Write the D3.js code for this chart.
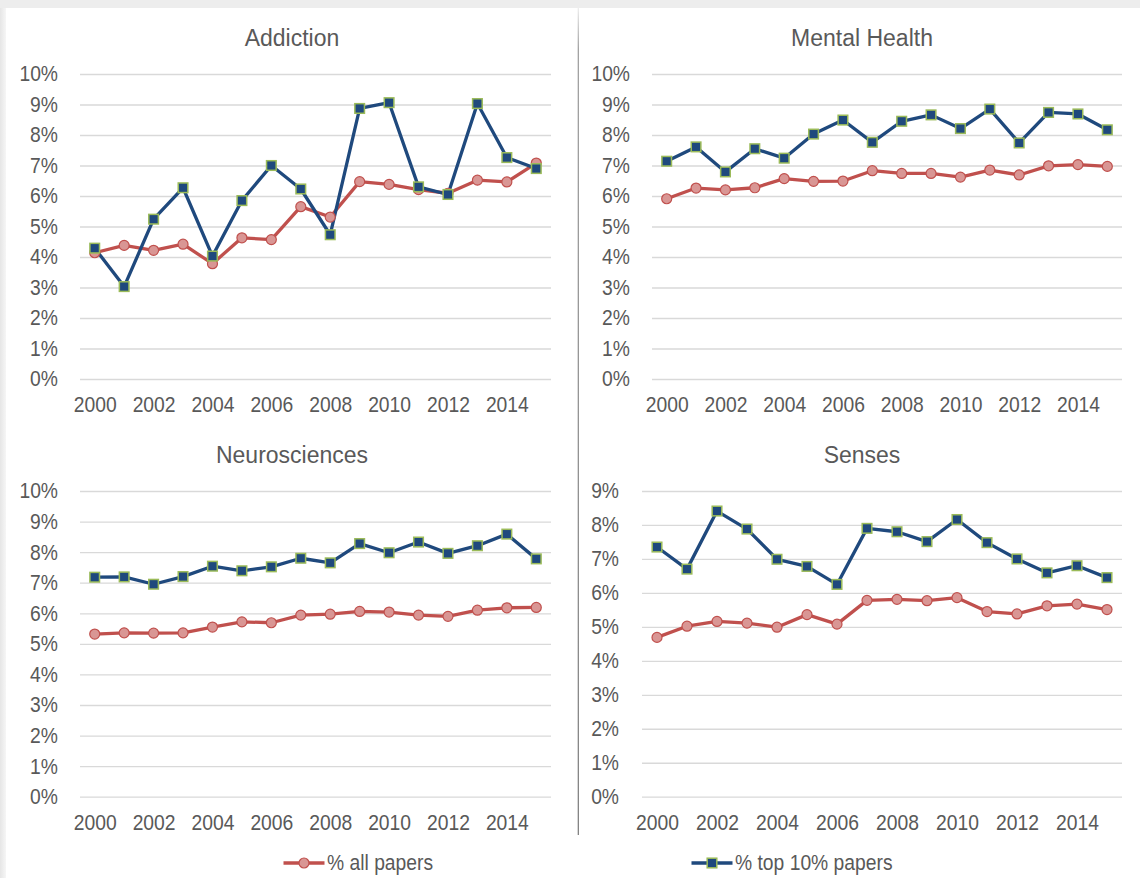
<!DOCTYPE html>
<html>
<head>
<meta charset="utf-8">
<script src="https://cdn.jsdelivr.net/npm/d3@7"></script>
<style>
  html, body { margin: 0; padding: 0; background: #f1f1f1; }
  svg { display: block; font-family: "Liberation Sans", Arial, sans-serif; }
</style>
</head>
<body>
<svg id="chart" width="1140" height="878"></svg>
<script>
'use strict'
// data, in percent
const years = d3.range(2000, 2016)
const yearLabels = [2000, 2002, 2004, 2006, 2008, 2010, 2012, 2014]

const addictionAll = [4.14, 4.38, 4.22, 4.42, 3.78, 4.63, 4.57, 5.65, 5.31, 6.47, 6.38, 6.21, 6.09, 6.52, 6.46, 7.08]
const addictionTop = [4.29, 3.03, 5.24, 6.27, 4.03, 5.85, 7.00, 6.23, 4.73, 8.87, 9.06, 6.30, 6.05, 9.03, 7.26, 6.90]

const mentalAll = [5.91, 6.26, 6.20, 6.27, 6.57, 6.48, 6.49, 6.83, 6.74, 6.74, 6.62, 6.85, 6.69, 6.99, 7.03, 6.97]
const mentalTop = [7.14, 7.61, 6.79, 7.55, 7.24, 8.03, 8.49, 7.76, 8.45, 8.66, 8.21, 8.85, 7.74, 8.74, 8.69, 8.17]

const neuroAll = [5.32, 5.36, 5.35, 5.36, 5.55, 5.72, 5.69, 5.94, 5.97, 6.06, 6.04, 5.94, 5.90, 6.10, 6.18, 6.19]
const neuroTop = [7.18, 7.19, 6.95, 7.20, 7.54, 7.39, 7.52, 7.80, 7.65, 8.28, 7.98, 8.33, 7.96, 8.21, 8.59, 7.78]

const sensesAll = [4.69, 5.02, 5.16, 5.11, 4.99, 5.36, 5.08, 5.78, 5.81, 5.77, 5.86, 5.45, 5.38, 5.62, 5.67, 5.51]
const sensesTop = [7.35, 6.70, 8.41, 7.88, 6.99, 6.78, 6.25, 7.90, 7.80, 7.51, 8.16, 7.48, 7.00, 6.59, 6.80, 6.45]

const panelTitles = ['Addiction', 'Mental Health', 'Neurosciences', 'Senses']
const panelMax = [10, 10, 10, 9]
const seriesNames = ['% all papers', '% top 10% papers']

const red = '#c0504d', redFill = '#d99694'
const blue = '#1f497d', green = '#9bbb59'
const textColor = '#595959'
const fontSize = 19.3

const svg = d3.select('#chart')

// white page with the grey shadow on top / left
const defs = svg.append('defs')
const lg = defs.append('linearGradient').attr('id', 'leftShade')
lg.append('stop').attr('offset', 0).attr('stop-color', '#e6e6e6')
lg.append('stop').attr('offset', 1).attr('stop-color', '#f6f6f6')
const dg = defs.append('linearGradient').attr('id', 'divider')
  .attr('x1', 0).attr('x2', 0).attr('y1', 0).attr('y2', 1)
dg.append('stop').attr('offset', 0).attr('stop-color', '#ececec')
dg.append('stop').attr('offset', 0.05).attr('stop-color', '#999')
dg.append('stop').attr('offset', 1).attr('stop-color', '#777')

svg.append('rect').attr('x', 0).attr('y', 0).attr('width', 1140).attr('height', 8).attr('fill', '#ededed')
svg.append('rect').attr('x', 0).attr('y', 8).attr('width', 6).attr('height', 870).attr('fill', 'url(#leftShade)')
svg.append('rect').attr('x', 6).attr('y', 8).attr('width', 1134).attr('height', 870).attr('fill', '#fff')
svg.append('rect').attr('x', 577.7).attr('y', 8).attr('width', 1.2).attr('height', 827).attr('fill', 'url(#divider)')

// panel layout: grid left/right, top (max tick) / bottom (0%), label edge, title centre
const layout = [
  {x0: 80, x1: 551, yTop: 74, yBot: 379, labelX: 58, titleX: 292, titleY: 37},
  {x0: 652, x1: 1122, yTop: 74, yBot: 379, labelX: 630, titleX: 862, titleY: 37},
  {x0: 80, x1: 551, yTop: 491, yBot: 796.7, labelX: 58, titleX: 292, titleY: 454},
  {x0: 642, x1: 1122, yTop: 491, yBot: 796.7, labelX: 619, titleX: 862, titleY: 454}
]
const panelData = [
  [addictionAll, addictionTop],
  [mentalAll, mentalTop],
  [neuroAll, neuroTop],
  [sensesAll, sensesTop]
]

const drawCircle = (sel) => sel.append('circle')
  .attr('r', 5).attr('fill', redFill).attr('stroke', red).attr('stroke-width', 1.2)
const drawSquare = (sel) => sel.append('rect')
  .attr('x', -4.8).attr('y', -4.8).attr('width', 9.6).attr('height', 9.6)
  .attr('fill', blue).attr('stroke', green).attr('stroke-width', 1.5)

// the source text is a bit taller than Liberation Sans, stretch it a little
const styleTicks = (sel) => sel.selectAll('.tick text')
  .attr('font-size', fontSize).attr('fill', textColor)
  .attr('font-family', '"Liberation Sans", Arial, sans-serif')
  .attr('transform', 'scale(1,1.13)')

panelTitles.forEach((title, p) => {
  const L = layout[p]
  const g = svg.append('g')

  const x = d3.scalePoint().domain(years).range([L.x0, L.x1]).padding(0.5)
  const y = d3.scaleLinear().domain([0, panelMax[p] / 100]).range([L.yBot, L.yTop])

  // gridlines + y labels
  const yAxis = g.append('g')
    .attr('transform', 'translate(' + L.x0 + ',0)')
    .call(d3.axisLeft(y).ticks(panelMax[p]).tickFormat(d3.format('.0%'))
      .tickSize(-(L.x1 - L.x0)).tickPadding(L.x0 - L.labelX))
  yAxis.select('.domain').remove()
  yAxis.selectAll('.tick line').attr('stroke', '#d9d9d9').attr('stroke-width', 1.3)
  styleTicks(yAxis)

  const xAxis = g.append('g')
    .attr('transform', 'translate(0,' + L.yBot + ')')
    .call(d3.axisBottom(x).tickValues(yearLabels).tickSize(0).tickPadding(15.5))
  xAxis.select('.domain').remove()
  styleTicks(xAxis)

  g.append('text')
    .attr('transform', 'translate(' + L.titleX + ',' + L.titleY + ') scale(1,1.08)')
    .attr('text-anchor', 'middle').attr('dominant-baseline', 'central')
    .attr('font-size', 23).attr('fill', textColor)
    .text(title)

  const line = d3.line().x((d, i) => x(years[i])).y(d => y(d / 100))
  const [allVals, topVals] = panelData[p]

  g.append('path').datum(allVals).attr('d', line)
    .attr('fill', 'none').attr('stroke', red).attr('stroke-width', 3.3).attr('stroke-linejoin', 'round')
  g.append('path').datum(topVals).attr('d', line)
    .attr('fill', 'none').attr('stroke', blue).attr('stroke-width', 3.3).attr('stroke-linejoin', 'round')

  g.append('g').selectAll('g').data(allVals).enter().append('g')
    .attr('transform', (d, i) => 'translate(' + x(years[i]) + ',' + y(d / 100) + ')')
    .call(drawCircle)
  g.append('g').selectAll('g').data(topVals).enter().append('g')
    .attr('transform', (d, i) => 'translate(' + x(years[i]) + ',' + y(d / 100) + ')')
    .call(drawSquare)
})

// legend
const legendItems = [
  {name: seriesNames[0], cx: 304, color: red, marker: drawCircle},
  {name: seriesNames[1], cx: 712, color: blue, marker: drawSquare}
]
const legend = svg.append('g').attr('transform', 'translate(0,863)')
legendItems.forEach(it => {
  const item = legend.append('g').attr('transform', 'translate(' + it.cx + ',0)')
  item.append('line').attr('x1', -20.5).attr('x2', 20.5)
    .attr('stroke', it.color).attr('stroke-width', 3.3)
  it.marker(item)
  item.append('text').attr('transform', 'translate(23,0) scale(1,1.1)')
    .attr('dominant-baseline', 'central')
    .attr('font-size', fontSize).attr('fill', textColor).text(it.name)
})
</script>
</body>
</html>
